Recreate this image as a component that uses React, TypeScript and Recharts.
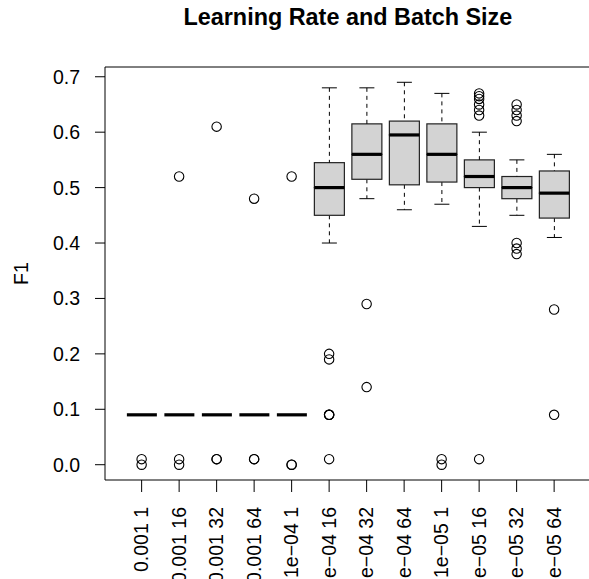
import React from "react";
import { ComposedChart, Bar, Scatter, XAxis, YAxis, ReferenceLine } from "recharts";

const categories = [
  "0.001 1", "0.001 16", "0.001 32", "0.001 64",
  "1e\u221204 1", "1e\u221204 16", "1e\u221204 32", "1e\u221204 64",
  "1e\u221205 1", "1e\u221205 16", "1e\u221205 32", "1e\u221205 64",
];

const whiskerLow = [0.09, 0.09, 0.09, 0.09, 0.09, 0.40, 0.48, 0.46, 0.47, 0.43, 0.45, 0.41];
const q1 = [0.09, 0.09, 0.09, 0.09, 0.09, 0.45, 0.515, 0.505, 0.51, 0.50, 0.48, 0.445];
const median = [0.09, 0.09, 0.09, 0.09, 0.09, 0.50, 0.56, 0.595, 0.56, 0.52, 0.50, 0.49];
const q3 = [0.09, 0.09, 0.09, 0.09, 0.09, 0.545, 0.615, 0.62, 0.615, 0.55, 0.52, 0.53];
const whiskerHigh = [0.09, 0.09, 0.09, 0.09, 0.09, 0.68, 0.68, 0.69, 0.67, 0.60, 0.55, 0.56];

const outliers: number[][] = [
  [0.01, 0.0],
  [0.52, 0.01, 0.0],
  [0.61, 0.01, 0.01],
  [0.48, 0.01, 0.01],
  [0.52, 0.0, 0.0],
  [0.20, 0.19, 0.09, 0.09, 0.09, 0.01],
  [0.29, 0.14],
  [],
  [0.01, 0.0],
  [0.67, 0.665, 0.66, 0.65, 0.64, 0.63, 0.01],
  [0.65, 0.64, 0.63, 0.62, 0.40, 0.39, 0.38],
  [0.28, 0.09],
];

const yTicks = [0, 0.1, 0.2, 0.3, 0.4, 0.5, 0.6, 0.7];
const yDomain = [-0.0276, 0.7176];

const FONT = '"Liberation Sans", Arial, Helvetica, sans-serif';
const BOX_FILL = "#d3d3d3";
const STAPLE = 7.5;

const data = categories.map((cat, i) => ({
  cat,
  base: whiskerLow[i],
  lowWhisker: q1[i] - whiskerLow[i],
  lowBox: median[i] - q1[i],
  highBox: q3[i] - median[i],
  highWhisker: whiskerHigh[i] - q3[i],
}));

const outlierPoints = categories.flatMap((cat, i) => outliers[i].map((value) => ({ cat, value })));

const Empty = () => <g />;

const LowWhisker = (p: any) => {
  const cx = p.x + p.width / 2;
  const bottom = p.y + p.height;
  return (
    <g>
      <line x1={cx} x2={cx} y1={p.y} y2={bottom} stroke="#000" strokeDasharray="4 4" />
      <line x1={cx - STAPLE} x2={cx + STAPLE} y1={bottom} y2={bottom} stroke="#000" />
    </g>
  );
};

const HighWhisker = (p: any) => {
  const cx = p.x + p.width / 2;
  return (
    <g>
      <line x1={cx} x2={cx} y1={p.y} y2={p.y + p.height} stroke="#000" strokeDasharray="4 4" />
      <line x1={cx - STAPLE} x2={cx + STAPLE} y1={p.y} y2={p.y} stroke="#000" />
    </g>
  );
};

const LowBox = (p: any) => (
  <rect x={p.x} y={p.y} width={p.width} height={Math.max(p.height, 0)} fill={BOX_FILL} stroke="#222" strokeWidth={1.2} />
);

const HighBox = (p: any) => (
  <g>
    <rect x={p.x} y={p.y} width={p.width} height={Math.max(p.height, 0)} fill={BOX_FILL} stroke="#222" strokeWidth={1.2} />
    <line x1={p.x} x2={p.x + p.width} y1={p.y + p.height} y2={p.y + p.height} stroke="#000" strokeWidth={3.2} />
  </g>
);

const Ring = (p: any) => <circle cx={p.cx} cy={p.cy} r={4.7} fill="none" stroke="#000" strokeWidth={1.1} />;

const XTick = ({ x, y, payload }: any) => (
  <text
    x={x}
    y={y}
    transform={`rotate(-90, ${x}, ${y})`}
    textAnchor="end"
    dy="0.35em"
    fontSize={19.5}
    fontFamily={FONT}
    fill="#000"
  >
    {payload.value}
  </text>
);

const YLabel = ({ viewBox }: any) => {
  const x = viewBox.x + 28;
  const y = viewBox.y + viewBox.height / 2;
  return (
    <text x={x} y={y} transform={`rotate(-90, ${x}, ${y})`} textAnchor="middle" fontSize={19.5} fontFamily={FONT} fill="#000">
      F1
    </text>
  );
};

export default function App() {
  return (
    <div style={{ position: "absolute", left: 0, top: 0, width: 589, height: 579, overflow: "hidden", background: "#fff" }}>
      <div
        style={{
          position: "absolute",
          left: 105,
          top: 6,
          width: 485.75,
          textAlign: "center",
          fontFamily: FONT,
          fontWeight: "bold",
          fontSize: 23.4,
          lineHeight: "23.4px",
          color: "#000",
        }}
      >
        Learning Rate and Batch Size
      </div>
      <ComposedChart width={600} height={579} data={data} margin={{ top: 67, right: 9.25, bottom: 0, left: 0 }}>
        <XAxis
          dataKey="cat"
          type="category"
          allowDuplicatedCategory={false}
          height={99}
          padding={{ left: 17.875, right: 17.875 }}
          stroke="#000"
          tickSize={12}
          tickMargin={15}
          interval={0}
          tick={<XTick />}
        />
        <YAxis
          type="number"
          domain={yDomain}
          allowDataOverflow
          ticks={yTicks}
          width={105}
          stroke="#000"
          tickSize={10}
          tickMargin={15}
          tickFormatter={(v: number) => v.toFixed(1)}
          tick={{ fill: "#000", fontSize: 19.5, fontFamily: FONT }}
          label={{ content: <YLabel /> }}
        />
        <ReferenceLine y={yDomain[1]} stroke="#000" ifOverflow="visible" />
        <Bar dataKey="base" stackId="box" barSize={30} shape={<Empty />} isAnimationActive={false} />
        <Bar dataKey="lowWhisker" stackId="box" barSize={30} shape={<LowWhisker />} isAnimationActive={false} />
        <Bar dataKey="lowBox" stackId="box" barSize={30} shape={<LowBox />} isAnimationActive={false} />
        <Bar dataKey="highBox" stackId="box" barSize={30} shape={<HighBox />} isAnimationActive={false} />
        <Bar dataKey="highWhisker" stackId="box" barSize={30} shape={<HighWhisker />} isAnimationActive={false} />
        <Scatter data={outlierPoints} dataKey="value" shape={<Ring />} isAnimationActive={false} />
      </ComposedChart>
    </div>
  );
}
